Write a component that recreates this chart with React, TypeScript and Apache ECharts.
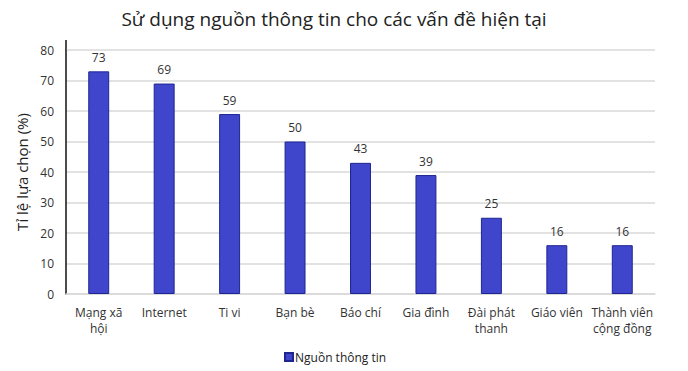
import React, { useEffect, useRef } from "react";
import * as echarts from "echarts";

const categories = [
  "Mạng xã\nhội",
  "Internet",
  "Ti vi",
  "Bạn bè",
  "Báo chí",
  "Gia đình",
  "Đài phát\nthanh",
  "Giáo viên",
  "Thành viên\ncộng đồng",
];
const values = [73, 69, 59, 50, 43, 39, 25, 16, 16];
const seriesName = "Nguồn thông tin";
const titleText = "Sử dụng nguồn thông tin cho các vấn đề hiện tại";
const yAxisName = "Tỉ lệ lựa chọn (%)";

const FONT = "'Open Sans', 'Noto Sans', sans-serif";

export default function App() {
  const ref = useRef<HTMLDivElement>(null);
  useEffect(() => {
    document.body.style.margin = "0";
    const chart = echarts.init(ref.current!, null, { renderer: "svg" });
    chart.setOption({
      animation: false,
      backgroundColor: "#ffffff",
      textStyle: { fontFamily: FONT },
      title: {
        text: titleText,
        left: 329,
        top: 4,
        textAlign: "center",
        textStyle: { fontSize: 19, fontWeight: "normal", color: "#222", fontFamily: FONT },
      },
      grid: { left: 66, right: 33, top: 50, bottom: 77 },
      legend: {
        bottom: 3,
        left: 279,
        itemWidth: 8,
        itemHeight: 8,
        icon: "rect",
        itemGap: 4,
        textStyle: { fontSize: 12, color: "#222", fontFamily: FONT, padding: [0, 0, 0, -3] },
        data: [seriesName],
      },
      xAxis: {
        type: "category",
        data: categories,
        axisLine: { show: true, lineStyle: { color: "#d9d9d9", width: 1.5 } },
        axisTick: { show: false },
        axisLabel: { fontSize: 12, color: "#333", interval: 0, margin: 10, lineHeight: 16, fontFamily: FONT },
      },
      yAxis: {
        type: "value",
        min: 0,
        max: 80,
        interval: 10,
        name: yAxisName,
        nameLocation: "middle",
        nameGap: 36,
        nameTextStyle: { fontSize: 15, color: "#222", fontFamily: FONT },
        axisLine: { show: true, lineStyle: { color: "#111", width: 1.5 } },
        axisTick: { show: false },
        axisLabel: { fontSize: 12, color: "#333", margin: 12, fontFamily: FONT },
        splitLine: { lineStyle: { color: "#d9d9d9", width: 1.5 } },
      },
      graphic: [
        {
          type: "line",
          shape: { x1: 66, y1: 40, x2: 66, y2: 50 },
          style: { stroke: "#111", lineWidth: 1.5 },
        },
      ],
      series: [
        {
          name: seriesName,
          type: "bar",
          data: values,
          barWidth: "32%",
          itemStyle: { color: "#3f46cc", borderColor: "#1f2590", borderWidth: 1 },
          label: {
            show: true,
            position: "top",
            distance: 8,
            fontSize: 12,
            color: "#333",
            fontFamily: FONT,
          },
        },
      ],
    });
    return () => chart.dispose();
  }, []);
  return <div ref={ref} style={{ width: 688, height: 371 }} />;
}
